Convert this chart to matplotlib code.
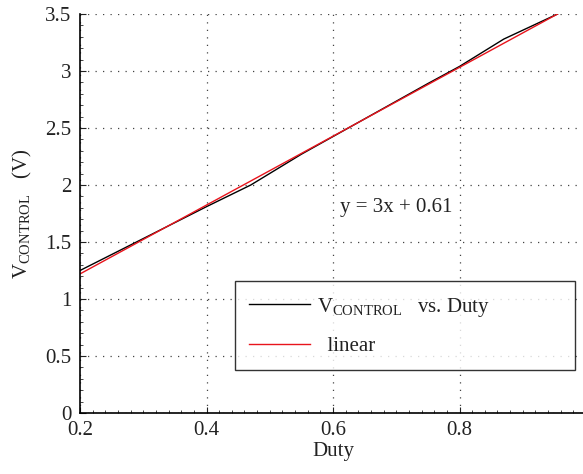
import matplotlib

matplotlib.use("Agg")
import matplotlib.pyplot as plt
from matplotlib.ticker import MultipleLocator

plt.rcParams["font.family"] = ["Liberation Serif", "DejaVu Serif"]
plt.rcParams["mathtext.fontset"] = "custom"
plt.rcParams["mathtext.rm"] = "Liberation Serif"
plt.rcParams["mathtext.it"] = "Liberation Serif:italic"

# measured V_CONTROL vs duty
duty = [0.2, 0.3, 0.4, 0.47, 0.55, 0.65, 0.75, 0.8, 0.87, 0.955]
v_control = [1.25, 1.53, 1.81, 2.0, 2.27, 2.58, 2.89, 3.04, 3.28, 3.5]

# linear fit endpoints
fit_duty = [0.2, 0.955]
fit_v = [1.22, 3.5]

x_ticks = [0.2, 0.4, 0.6, 0.8, 1.0]
x_tick_labels = ["0.2", "0.4", "0.6", "0.8", "1"]
y_ticks = [0, 0.5, 1, 1.5, 2, 2.5, 3, 3.5]
y_tick_labels = ["0", "0.5", "1", "1.5", "2", "2.5", "3", "3.5"]

fig = plt.figure(figsize=(5.83, 4.74), dpi=100)
# right edge of the axes runs slightly past the figure, as in the reference
ax = fig.add_axes([80 / 583, 1 - 413 / 474, 506 / 583, 399 / 474])

ax.plot(duty, v_control, color="black", linewidth=1.0,
        label=r"V$_{\mathrm{CONTROL}}$   vs. Duty")
ax.plot(fit_duty, fit_v, color="#e8141c", linewidth=1.0, label="  linear")

ax.set_xlim(0.2, 1.0)
ax.set_ylim(0, 3.5)
ax.set_xticks(x_ticks)
ax.set_xticklabels(x_tick_labels)
ax.set_yticks(y_ticks)
ax.set_yticklabels(y_tick_labels)
ax.xaxis.set_minor_locator(MultipleLocator(0.02))
ax.yaxis.set_minor_locator(MultipleLocator(0.1))
ax.tick_params(which="major", direction="in", length=4, width=0.8,
               labelsize=15, colors="#222222", pad=6)
ax.tick_params(which="minor", direction="in", length=2, width=0.5)

ax.grid(True, which="major", color="#444444", linestyle=(0, (1, 5)),
        linewidth=0.9)
ax.spines["top"].set_visible(False)
ax.spines["right"].set_visible(False)
ax.spines["left"].set_linewidth(1.2)
ax.spines["bottom"].set_linewidth(1.2)

ax.set_xlabel("Duty", fontsize=15, color="#222222", labelpad=1)
ax.set_ylabel(r"V$_{\mathrm{CONTROL}}$   (V)", fontsize=15, color="#222222",
              labelpad=8)

ax.text(0.611, 1.80, "y = 3x + 0.61", fontsize=15, color="#222222",
        va="center", ha="left")

leg = ax.legend(loc="upper left", bbox_to_anchor=(0.306, 0.113, 0.672, 0.218),
                mode="expand", fontsize=15, frameon=True, fancybox=False,
                handlelength=2.9, handletextpad=0.35, labelspacing=0.85,
                borderpad=0.7, borderaxespad=0)
leg.get_frame().set_edgecolor("black")
leg.get_frame().set_linewidth(1.0)
for t in leg.get_texts():
    t.set_color("#222222")

fig.savefig("out.png", dpi=100)
